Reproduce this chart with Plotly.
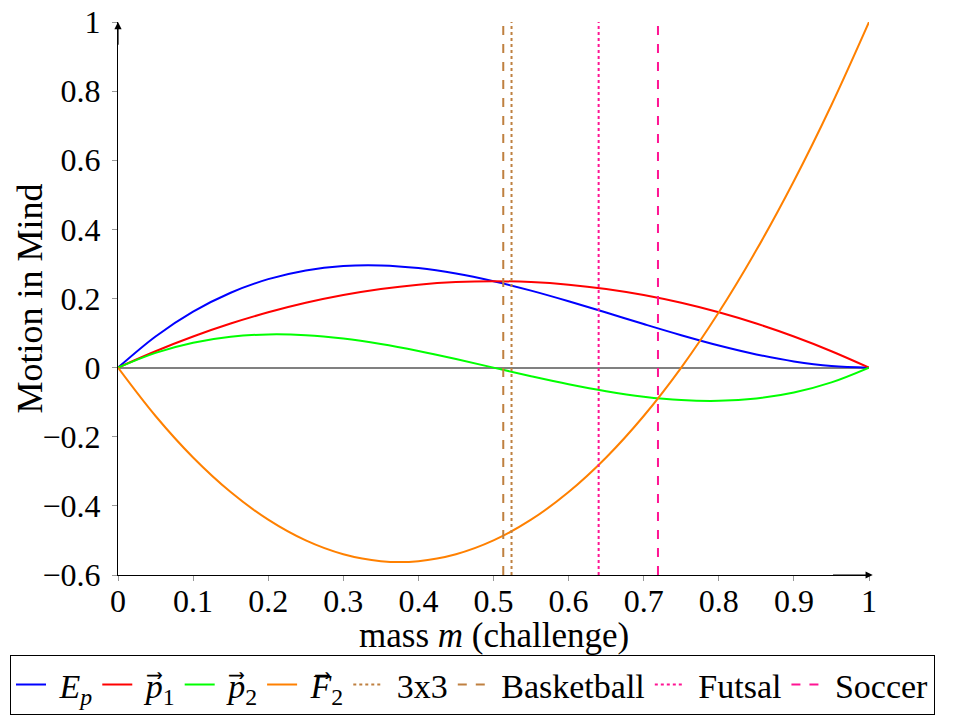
import plotly.graph_objects as go

# sample positions along mass m
m_values = [0.0, 0.05, 0.1, 0.15, 0.2, 0.25, 0.3, 0.35, 0.4, 0.45, 0.5,
            0.55, 0.6, 0.65, 0.7, 0.75, 0.8, 0.85, 0.9, 0.95, 1.0]

ep_values = [0.0, 0.09025, 0.162, 0.21675, 0.256, 0.28125, 0.294, 0.29575, 0.288, 0.27225, 0.25,
             0.22275, 0.192, 0.15925, 0.126, 0.09375, 0.064, 0.03825, 0.018, 0.00475, 0.0]
p1_values = [0.0, 0.0475, 0.09, 0.1275, 0.16, 0.1875, 0.21, 0.2275, 0.24, 0.2475, 0.25,
             0.2475, 0.24, 0.2275, 0.21, 0.1875, 0.16, 0.1275, 0.09, 0.0475, 0.0]
p2_values = [0.0, 0.04275, 0.072, 0.08925, 0.096, 0.09375, 0.084, 0.06825, 0.048, 0.02475, 0.0,
             -0.02475, -0.048, -0.06825, -0.084, -0.09375, -0.096, -0.08925, -0.072, -0.04275, 0.0]
f2_values = [0.0, -0.14, -0.26, -0.36, -0.44, -0.5, -0.54, -0.56, -0.56, -0.54, -0.5,
             -0.44, -0.36, -0.26, -0.14, 0.0, 0.16, 0.34, 0.54, 0.76, 1.0]

NB = "\u00a0"
curve_names = ["<i>E</i><sub><i>p</i></sub>", "<i>p</i>\u20d7<sub>1</sub>",
               "<i>p</i>\u20d7<sub>2</sub>", "<i>F</i>\u20d7<sub>2</sub>"]
curve_colors = ["#0000ff", "#ff0000", "#00ff00", "#ff8000"]

sport_names = ["3x3", "Basketball", "Futsal", "Soccer"]
sport_masses = [0.524, 0.513, 0.640, 0.719]
sport_colors = ["#bf8040", "#bf8040", "#ff1493", "#ff1493"]
sport_dashes = ["dot", "dash", "dot", "dash"]

y_range = [-0.6, 1.0]
x_ticks = [0, 0.1, 0.2, 0.3, 0.4, 0.5, 0.6, 0.7, 0.8, 0.9, 1]
x_ticklabels = ["0", "0.1", "0.2", "0.3", "0.4", "0.5", "0.6", "0.7", "0.8", "0.9", "1"]
y_ticks = [-0.6, -0.4, -0.2, 0, 0.2, 0.4, 0.6, 0.8, 1]
y_ticklabels = ["\u22120.6", "\u22120.4", "\u22120.2", "0", "0.2", "0.4", "0.6", "0.8", "1"]

FONT = "Liberation Serif"

fig = go.Figure()
for name, ys, col in zip(curve_names, [ep_values, p1_values, p2_values, f2_values], curve_colors):
    fig.add_trace(go.Scatter(x=m_values, y=ys, mode="lines", name=NB + name,
                             line=dict(color=col, width=2, shape="spline")))
for name, mv, col, dash in zip(sport_names, sport_masses, sport_colors, sport_dashes):
    fig.add_trace(go.Scatter(x=[mv, mv], y=y_range, mode="lines", name=NB + name,
                             line=dict(color=col, width=2, dash=dash)))

fig.update_layout(
    width=960, height=707,
    margin=dict(l=110, r=0, t=14, b=140, autoexpand=False),
    paper_bgcolor="white", plot_bgcolor="white",
    font=dict(family=FONT, size=30, color="black"),
    showlegend=True,
    legend=dict(orientation="h", x=-0.12706, y=-0.1445, xanchor="left", yanchor="top",
                bordercolor="black", borderwidth=1, itemwidth=30,
                font=dict(family=FONT, size=34), tracegroupgap=0),
)
fig.update_xaxes(range=[0, 1], domain=[0, 751 / 850], tickvals=x_ticks, ticktext=x_ticklabels,
                 automargin=False,
                 showgrid=False, zeroline=False, showline=True, linecolor="black", linewidth=1.2,
                 ticks="outside", ticklen=5, tickcolor="#999999", tickwidth=1,
                 tickfont=dict(size=32), ticklabeloverflow="allow",
                 ticklabelstandoff=-8)
fig.update_yaxes(range=y_range, tickvals=y_ticks, ticktext=y_ticklabels, automargin=False,
                 showgrid=False, zeroline=True, zerolinecolor="#808080", zerolinewidth=2,
                 showline=True, linecolor="black", linewidth=1.2,
                 ticks="outside", ticklen=5, tickcolor="#999999", tickwidth=1,
                 tickfont=dict(size=32), ticklabeloverflow="allow",
                 ticklabelstandoff=5)

# axis titles
fig.add_annotation(text="mass <i>m</i> (challenge)", xref="x domain", yref="y domain",
                   x=0.5, y=-0.1085, xanchor="center", yanchor="middle", showarrow=False,
                   font=dict(family=FONT, size=35))
fig.add_annotation(text="Motion in Mind", xref="x domain", yref="y domain", textangle=-90,
                   x=-0.1172, y=0.5, xanchor="center", yanchor="middle", showarrow=False,
                   font=dict(family=FONT, size=36))

# axis arrows
fig.add_annotation(x=1.005, y=-0.6, ax=0.95, ay=-0.6, xref="x", yref="y", axref="x", ayref="y",
                   text="", showarrow=True, arrowhead=2, arrowsize=1.2, arrowwidth=1.2, arrowcolor="black")
fig.add_annotation(x=0, y=1.0, ax=0, ay=0.93, xref="x", yref="y", axref="x", ayref="y",
                   text="", showarrow=True, arrowhead=2, arrowsize=1.2, arrowwidth=1.2, arrowcolor="black")

fig.write_html("out.html")
